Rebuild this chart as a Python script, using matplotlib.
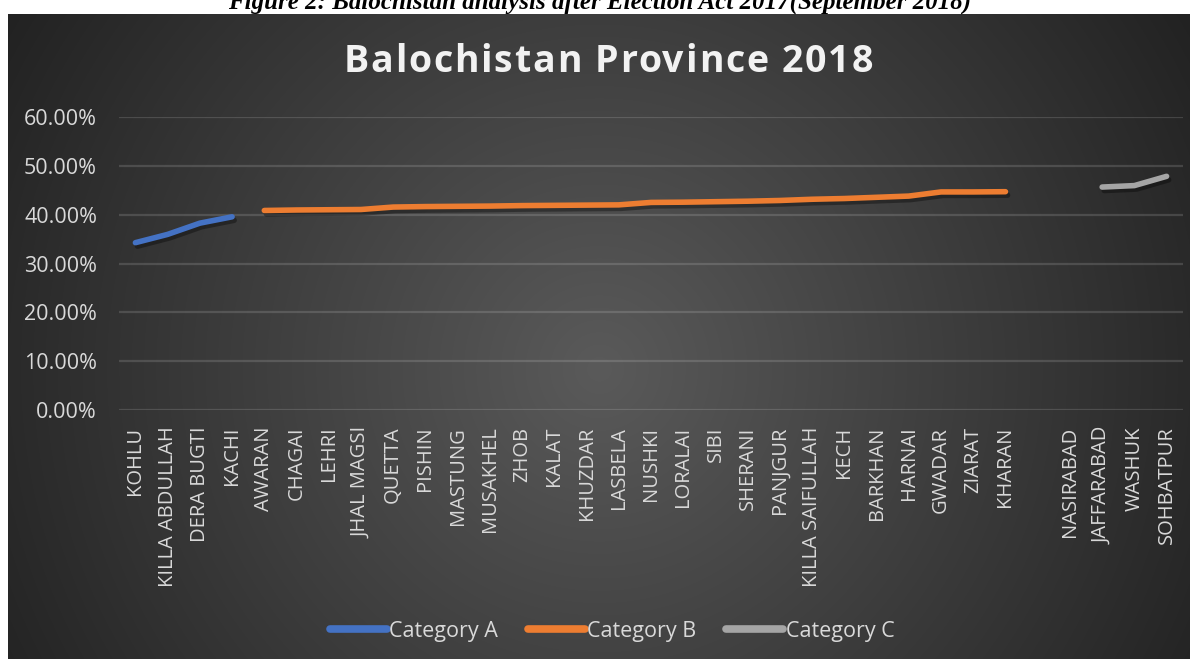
import numpy as np
import matplotlib
matplotlib.use("Agg")
import matplotlib.pyplot as plt
import matplotlib.patheffects as pe
from matplotlib.ticker import PercentFormatter
from matplotlib.font_manager import FontProperties

plt.rcParams['font.family'] = ['Open Sans', 'DejaVu Sans']

# Distritos (a posição vazia é uma categoria sem rótulo no gráfico original)
districts = ["KOHLU", "KILLA ABDULLAH", "DERA BUGTI", "KACHI", "AWARAN", "CHAGAI",
             "LEHRI", "JHAL MAGSI", "QUETTA", "PISHIN", "MASTUNG", "MUSAKHEL",
             "ZHOB", "KALAT", "KHUZDAR", "LASBELA", "NUSHKI", "LORALAI", "SIBI",
             "SHERANI", "PANJGUR", "KILLA SAIFULLAH", "KECH", "BARKHAN", "HARNAI",
             "GWADAR", "ZIARAT", "KHARAN", "", "NASIRABAD", "JAFFARABAD",
             "WASHUK", "SOHBATPUR"]

cat_a_names = ["KOHLU", "KILLA ABDULLAH", "DERA BUGTI", "KACHI"]
cat_a_vals = [34.3, 36.0, 38.3, 39.6]

cat_b_names = ["AWARAN", "CHAGAI", "LEHRI", "JHAL MAGSI", "QUETTA", "PISHIN",
               "MASTUNG", "MUSAKHEL", "ZHOB", "KALAT", "KHUZDAR", "LASBELA",
               "NUSHKI", "LORALAI", "SIBI", "SHERANI", "PANJGUR", "KILLA SAIFULLAH",
               "KECH", "BARKHAN", "HARNAI", "GWADAR", "ZIARAT", "KHARAN"]
cat_b_vals = [40.9, 41.0, 41.05, 41.1, 41.6, 41.7, 41.75, 41.8, 41.9, 41.95, 42.0,
              42.05, 42.55, 42.6, 42.7, 42.8, 42.95, 43.2, 43.35, 43.6, 43.85,
              44.7, 44.7, 44.75]

cat_c_names = ["JAFFARABAD", "WASHUK", "SOHBATPUR"]
cat_c_vals = [45.7, 46.0, 47.9]

series = [("Category A", cat_a_names, cat_a_vals, "#4472c4"),
          ("Category B", cat_b_names, cat_b_vals, "#ed7d31"),
          ("Category C", cat_c_names, cat_c_vals, "#a5a5a5")]

TITLE = "Balochistan Province 2018"
CAPTION = "Figure 2: Balochistan analysis after Election Act 2017(September 2018)"

fig = plt.figure(figsize=(12, 6.59), dpi=100)
fig.patch.set_facecolor("white")

# Fundo com gradiente radial (estilo Excel)
bg = fig.add_axes([8 / 1200, 0, 1182 / 1200, 645 / 659])
bg.set_axis_off()
h, w = 645, 1182
yy, xx = np.mgrid[0:h, 0:w]
d = np.sqrt((xx - w / 2) ** 2 + (yy - h * 0.55) ** 2) / np.sqrt((w / 2) ** 2 + (h * 0.55) ** 2)
shade = (0x5a - (0x5a - 0x22) * d) / 255.0
bg.imshow(np.dstack([shade, shade, shade]), aspect="auto", extent=(0, 1, 0, 1))
bg.set_xlim(0, 1)
bg.set_ylim(0, 1)

ax = fig.add_axes([119.3 / 1200, 1 - 410 / 659, 1063.4 / 1200, 292.7 / 659])
ax.set_facecolor("none")

x = np.arange(len(districts))
for label, names, vals, color in series:
    xs = [districts.index(n) for n in names]
    ax.plot(xs, vals, color=color, lw=4, solid_capstyle="round",
            solid_joinstyle="round", label=label,
            path_effects=[pe.SimpleLineShadow(offset=(1.5, -2.5), shadow_color="black", alpha=0.35),
                          pe.Normal()])

ax.set_xlim(-0.5, len(districts) - 0.5)
ax.set_ylim(0, 60)
ax.set_yticks(np.arange(0, 61, 10))
ax.yaxis.set_major_formatter(PercentFormatter(xmax=100, decimals=2))
ax.set_xticks(x)
ax.set_xticklabels(districts, rotation=90, fontsize=14.5, color="#d9d9d9")
ax.tick_params(axis="y", labelsize=15.5, labelcolor="#d9d9d9", length=0, pad=16)
ax.tick_params(axis="x", length=0, pad=12)
ax.grid(axis="y", color="white", alpha=0.14, lw=1.6)
ax.set_axisbelow(True)
for s in ax.spines.values():
    s.set_visible(False)

# Título com espaçamento entre letras
renderer = fig.canvas.get_renderer()
tprop = FontProperties(family="Open Sans", weight="bold", size=27)
spacing = 1.8
def text_w(s):
    return renderer.get_text_width_height_descent(s, tprop, ismath=False)[0]
full_w = text_w(TITLE) + spacing * (len(TITLE) - 1)
x0 = 608 - full_w / 2
for i, ch in enumerate(TITLE):
    if ch == " ":
        continue
    px = x0 + text_w(TITLE[:i + 1]) - text_w(ch) + spacing * i
    fig.text(px / 1200, 1 - 62 / 659, ch, ha="left", va="center",
             fontproperties=tprop, color="#f2f2f2")

fig.text(0.5, 1 - 9 / 659, CAPTION,
         ha="center", va="baseline", fontsize=18, fontweight="bold", style="italic",
         family="Liberation Serif", color="black")

leg = fig.legend(loc="center", bbox_to_anchor=(0.51, 1 - 631 / 659), ncol=3,
                 frameon=False, fontsize=15.5, handlelength=2.65, handletextpad=0.1,
                 columnspacing=1.4)
for t in leg.get_texts():
    t.set_color("#d9d9d9")
for l in leg.get_lines():
    l.set_linewidth(5.5)
    l.set_solid_capstyle("round")
    l.set_path_effects([])

fig.savefig("out.png", dpi=100)
